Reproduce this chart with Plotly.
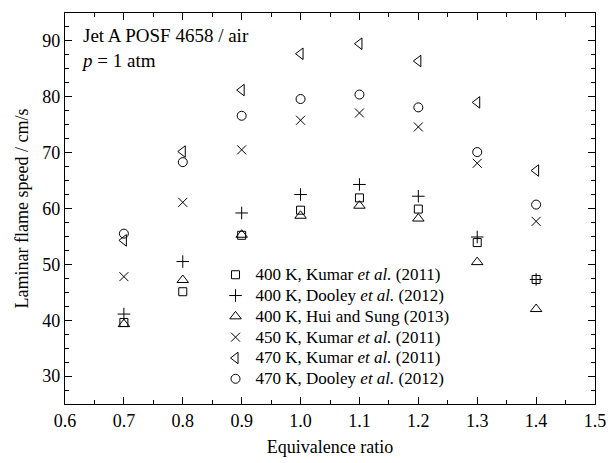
import plotly.graph_objects as go

# Equivalence ratios and measured laminar flame speeds (cm/s)
phi = [0.7, 0.8, 0.9, 1.0, 1.1, 1.2, 1.3, 1.4]
kumar_400 = [39.6, 45.1, 55.2, 59.7, 61.9, 59.9, 53.9, 47.3]
dooley_400 = [41.1, 50.5, 59.2, 62.5, 64.3, 62.2, 54.9, 47.3]
hui_400 = [39.3, 47.2, 55.3, 58.7, 60.5, 58.2, 50.4, 42.0]
kumar_450 = [47.8, 61.1, 70.5, 75.8, 77.1, 74.6, 68.1, 57.7]
kumar_470 = [54.3, 70.2, 81.2, 87.7, 89.5, 86.4, 79.0, 66.8]
dooley_470 = [55.5, 68.3, 76.6, 79.6, 80.4, 78.1, 70.1, 60.7]

series = [
    ("400 K, Kumar <i>et al.</i> (2011)", kumar_400, "square-open", 8),
    ("400 K, Dooley <i>et al.</i> (2012)", dooley_400, "cross-thin-open", 9),
    ("400 K, Hui and Sung (2013)", hui_400, "triangle-up-open", 10),
    ("450 K, Kumar <i>et al.</i> (2011)", kumar_450, "x-thin-open", 9),
    ("470 K, Kumar <i>et al.</i> (2011)", kumar_470, "triangle-left-open", 10),
    ("470 K, Dooley <i>et al.</i> (2012)", dooley_470, "circle-open", 9),
]

font_family = "Liberation Serif, Times New Roman, serif"
LEGEND_TEXT_PX = 17

fig = go.Figure()
for name, vals, sym, size in series:
    # larger legend text than the row height implies, for compact rows
    label = f'<span style="font-size:{LEGEND_TEXT_PX}px">{name}</span>'
    fig.add_trace(go.Scatter(
        x=phi, y=vals, mode="markers", name=label,
        marker=dict(symbol=sym, size=size, color="black",
                    line=dict(color="black", width=1)),
    ))

axis_common = dict(
    showline=True, linecolor="black", linewidth=1.2, mirror="allticks",
    ticks="inside", ticklen=7, tickwidth=1, tickcolor="black",
    showgrid=False, zeroline=False, automargin=False,
    tickfont=dict(family=font_family, size=18, color="black"),
)

fig.update_xaxes(
    range=[0.6, 1.5], tick0=0.6, dtick=0.1, tickformat=".1f",
    minor=dict(dtick=0.05, tick0=0.6, ticklen=4, ticks="inside", tickcolor="black"),
    title=dict(text="Equivalence ratio", font=dict(family=font_family, size=18, color="black"),
               standoff=10),
    **axis_common,
)
fig.update_yaxes(
    range=[25, 95], tick0=0, dtick=10,
    minor=dict(dtick=2.5, tick0=0, ticklen=4, ticks="inside", tickcolor="black"),
    title=dict(text="Laminar flame speed / cm/s", font=dict(family=font_family, size=18, color="black"),
               standoff=8),
    **axis_common,
)

fig.add_annotation(
    x=0, y=1, xref="paper", yref="paper", xanchor="left", yanchor="top",
    xshift=14, yshift=-10, align="left", showarrow=False,
    text="Jet A POSF 4658 / air<br><i>p</i> = 1 atm",
    font=dict(family=font_family, size=19, color="black"),
)

fig.update_layout(
    width=608, height=463,
    margin=dict(l=65, r=13, t=13, b=59),
    paper_bgcolor="white", plot_bgcolor="white",
    showlegend=True,
    legend=dict(
        x=0.284, y=0.37, xanchor="left", yanchor="top",
        bgcolor="rgba(0,0,0,0)", borderwidth=0,
        font=dict(family=font_family, size=13.7, color="black"),
        tracegroupgap=0, itemsizing="trace",
    ),
    font=dict(family=font_family, color="black"),
)

fig.write_html("out.html")
